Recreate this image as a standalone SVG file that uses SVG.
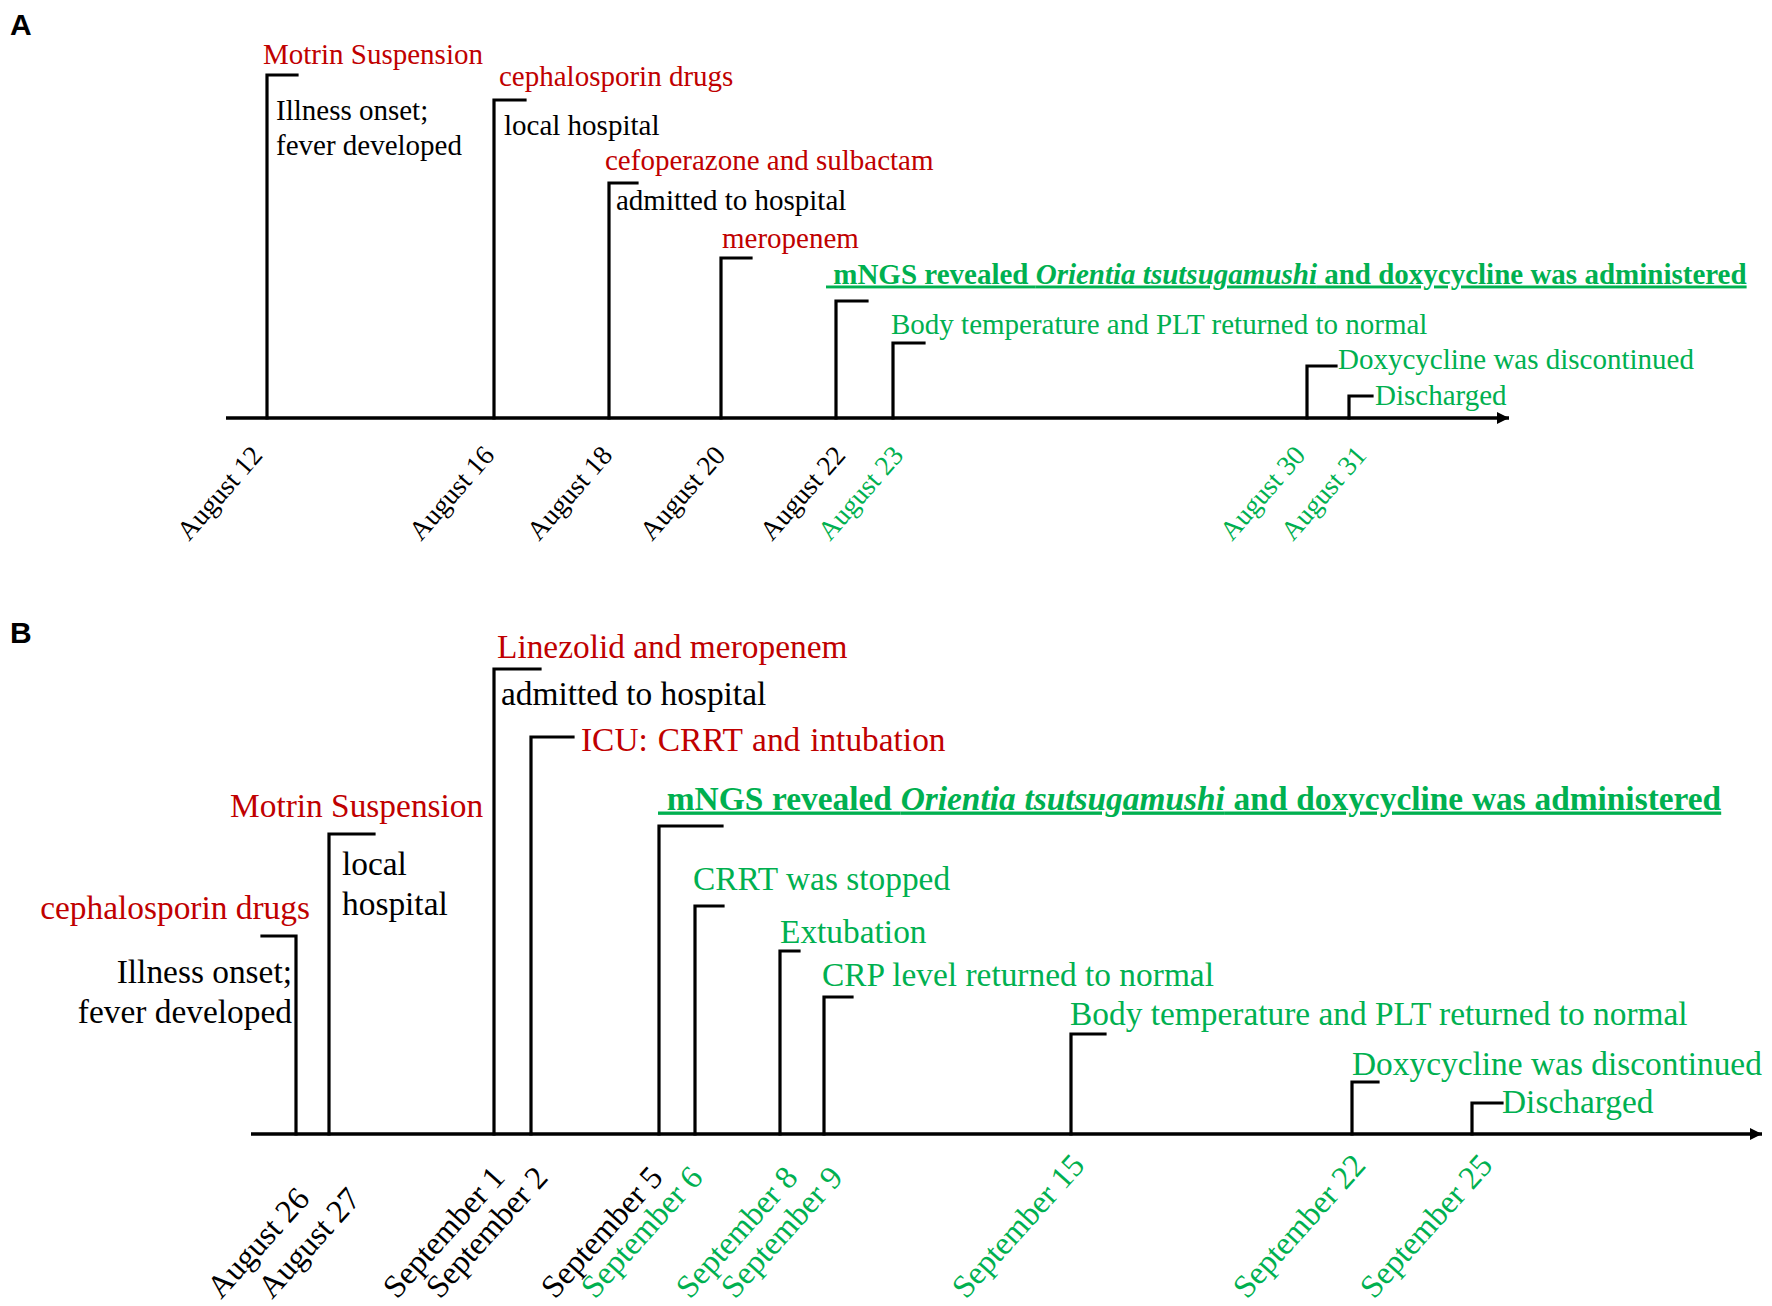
<svg xmlns="http://www.w3.org/2000/svg" width="1772" height="1306" viewBox="0 0 1772 1306">
<defs>
<style>
.t{font-family:"Liberation Serif","Times New Roman",serif}
.a{font-size:29px}
.b{font-size:33.4px}
.la{font-size:27.5px}
.lb{font-size:32.5px}
.red{fill:#C00000}
.grn{fill:#00B050}
.blk{fill:#000}
.bold{font-weight:bold}
.ul{text-decoration:underline}
.panel{font-family:"Liberation Sans",Arial,sans-serif;font-weight:bold;font-size:30px;fill:#000}
.stem{fill:none;stroke:#000;stroke-width:3.2;stroke-linecap:square;stroke-linejoin:miter}
.axis{fill:none;stroke:#000;stroke-width:3.5}
</style>
<marker id="arr" markerUnits="userSpaceOnUse" markerWidth="14" markerHeight="12" refX="12" refY="6" orient="auto">
<path d="M0,0 L12,6 L0,12 z" fill="#000"/>
</marker>
</defs>
<rect width="1772" height="1306" fill="#fff"/>

<text class="panel" x="10" y="35">A</text>
<text class="panel" x="10" y="643">B</text>

<g id="connectors">
<path class="axis" d="M226 418 H1509" marker-end="url(#arr)"/>
<path class="stem" d="M267 418 V75 H297"/>
<path class="stem" d="M494 418 V100 H525"/>
<path class="stem" d="M609 418 V183 H637"/>
<path class="stem" d="M721 418 V258 H751"/>
<path class="stem" d="M836 418 V301 H867"/>
<path class="stem" d="M893 418 V343 H924"/>
<path class="stem" d="M1307 418 V366 H1336"/>
<path class="stem" d="M1349 418 V396 H1372"/>

<path class="axis" d="M251 1134 H1762" marker-end="url(#arr)"/>
<path class="stem" d="M296 1134 V936 H262"/>
<path class="stem" d="M329 1134 V834 H374"/>
<path class="stem" d="M494 1134 V669 H540"/>
<path class="stem" d="M531 1134 V737 H573"/>
<path class="stem" d="M659 1134 V826 H722"/>
<path class="stem" d="M695 1134 V906 H723"/>
<path class="stem" d="M780 1134 V951 H799"/>
<path class="stem" d="M824 1134 V997 H852"/>
<path class="stem" d="M1071 1134 V1034 H1105"/>
<path class="stem" d="M1352 1134 V1082 H1378"/>
<path class="stem" d="M1472 1134 V1103 H1502"/>
</g>

<!-- Panel A -->
<g id="a-aug12">
<text class="t a red" x="263" y="63.5">Motrin Suspension</text>
<text class="t a blk" x="276" y="119.5">Illness onset;</text>
<text class="t a blk" x="276" y="154.5">fever developed</text>
<text class="t la blk" transform="translate(189,542) rotate(-49)">August 12</text>
</g>
<g id="a-aug16">
<text class="t a red" x="499" y="85.5">cephalosporin drugs</text>
<text class="t a blk" x="504" y="134.5">local hospital</text>
<text class="t la blk" transform="translate(421,542) rotate(-49)">August 16</text>
</g>
<g id="a-aug18">
<text class="t a red" x="605" y="169.5">cefoperazone and sulbactam</text>
<text class="t a blk" x="616" y="209.5">admitted to hospital</text>
<text class="t la blk" transform="translate(539,542) rotate(-49)">August 18</text>
</g>
<g id="a-aug20">
<text class="t a red" x="722" y="247.5">meropenem</text>
<text class="t la blk" transform="translate(652,542) rotate(-49)">August 20</text>
</g>
<g id="a-aug22">
<text class="t a grn bold ul" x="826" y="283.5">&#160;mNGS revealed <tspan font-style="italic">Orientia tsutsugamushi</tspan> and doxycycline was administered</text>
<text class="t la blk" transform="translate(772,542) rotate(-49)">August 22</text>
</g>
<g id="a-aug23">
<text class="t a grn" x="891" y="333.5">Body temperature and PLT returned to normal</text>
<text class="t la grn" transform="translate(830,542) rotate(-49)">August 23</text>
</g>
<g id="a-aug30">
<text class="t a grn" x="1338" y="368.5">Doxycycline was discontinued</text>
<text class="t la grn" transform="translate(1232,542) rotate(-49)">August 30</text>
</g>
<g id="a-aug31">
<text class="t a grn" x="1375" y="404.5">Discharged</text>
<text class="t la grn" transform="translate(1293,542) rotate(-49)">August 31</text>
</g>

<!-- Panel B -->
<g id="b-aug26">
<text class="t b red" x="310" y="918.5" text-anchor="end">cephalosporin drugs</text>
<text class="t b blk" x="292" y="982.5" text-anchor="end">Illness onset;</text>
<text class="t b blk" x="292" y="1022.5" text-anchor="end">fever developed</text>
<text class="t lb blk" transform="translate(221,1300) rotate(-48)">August 26</text>
</g>
<g id="b-aug27">
<text class="t b red" x="230" y="816.5">Motrin Suspension</text>
<text class="t b blk" x="342" y="874.5">local</text>
<text class="t b blk" x="342" y="914.5">hospital</text>
<text class="t lb blk" transform="translate(272,1300) rotate(-48)">August 27</text>
</g>
<g id="b-sep1">
<text class="t b red" x="497" y="657.5">Linezolid and meropenem</text>
<text class="t b blk" x="501" y="704.5">admitted to hospital</text>
<text class="t lb blk" transform="translate(397,1300) rotate(-48)">September 1</text>
</g>
<g id="b-sep2">
<text class="t b red" x="581" y="750.5" word-spacing="1.5">ICU: CRRT and intubation</text>
<text class="t lb blk" transform="translate(440,1300) rotate(-48)">September 2</text>
</g>
<g id="b-sep5">
<text class="t b grn bold ul" x="658" y="809.5" word-spacing="0.4">&#160;mNGS revealed <tspan font-style="italic">Orientia tsutsugamushi</tspan> and doxycycline was administered</text>
<text class="t lb blk" transform="translate(555,1300) rotate(-48)">September 5</text>
</g>
<g id="b-sep6">
<text class="t b grn" x="693" y="889.5">CRRT was stopped</text>
<text class="t lb grn" transform="translate(595,1300) rotate(-48)">September 6</text>
</g>
<g id="b-sep8">
<text class="t b grn" x="780" y="942.5">Extubation</text>
<text class="t lb grn" transform="translate(690,1300) rotate(-48)">September 8</text>
</g>
<g id="b-sep9">
<text class="t b grn" x="822" y="985.5">CRP level returned to normal</text>
<text class="t lb grn" transform="translate(735,1300) rotate(-48)">September 9</text>
</g>
<g id="b-sep15">
<text class="t b grn" x="1070" y="1024.5">Body temperature and PLT returned to normal</text>
<text class="t lb grn" transform="translate(966,1300) rotate(-48)">September 15</text>
</g>
<g id="b-sep22">
<text class="t b grn" x="1352" y="1074.5">Doxycycline was discontinued</text>
<text class="t lb grn" transform="translate(1247,1300) rotate(-48)">September 22</text>
</g>
<g id="b-sep25">
<text class="t b grn" x="1502" y="1112.5">Discharged</text>
<text class="t lb grn" transform="translate(1374,1300) rotate(-48)">September 25</text>
</g>
</svg>
